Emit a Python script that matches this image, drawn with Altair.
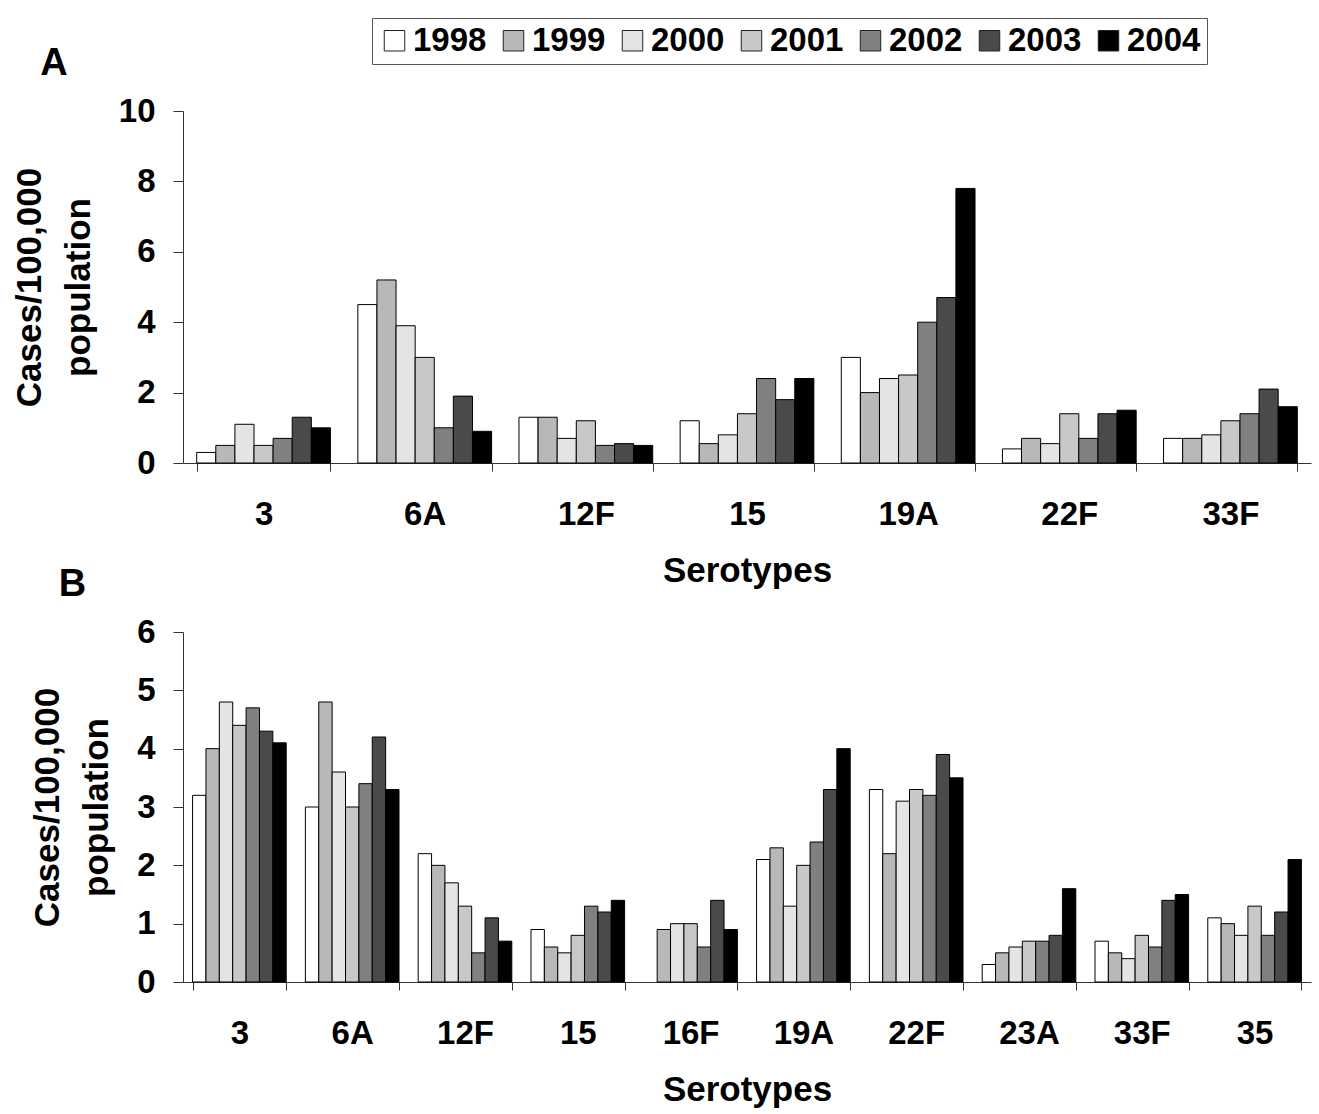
import altair as alt
import pandas as pd

FONT = "Liberation Sans"

years = ["1998", "1999", "2000", "2001", "2002", "2003", "2004"]
fills = ["#ffffff", "#b8b8b8", "#e4e4e4", "#c8c8c8", "#808080", "#4a4a4a", "#000000"]

# Panel A
sero_a = ["3", "6A", "12F", "15", "19A", "22F", "33F"]
a_1998 = [0.3, 4.5, 1.3, 1.2, 3.0, 0.4, 0.7]
a_1999 = [0.5, 5.2, 1.3, 0.55, 2.0, 0.7, 0.7]
a_2000 = [1.1, 3.9, 0.7, 0.8, 2.4, 0.55, 0.8]
a_2001 = [0.5, 3.0, 1.2, 1.4, 2.5, 1.4, 1.2]
a_2002 = [0.7, 1.0, 0.5, 2.4, 4.0, 0.7, 1.4]
a_2003 = [1.3, 1.9, 0.55, 1.8, 4.7, 1.4, 2.1]
a_2004 = [1.0, 0.9, 0.5, 2.4, 7.8, 1.5, 1.6]

# Panel B
sero_b = ["3", "6A", "12F", "15", "16F", "19A", "22F", "23A", "33F", "35"]
b_1998 = [3.2, 3.0, 2.2, 0.9, None, 2.1, 3.3, 0.3, 0.7, 1.1]
b_1999 = [4.0, 4.8, 2.0, 0.6, 0.9, 2.3, 2.2, 0.5, 0.5, 1.0]
b_2000 = [4.8, 3.6, 1.7, 0.5, 1.0, 1.3, 3.1, 0.6, 0.4, 0.8]
b_2001 = [4.4, 3.0, 1.3, 0.8, 1.0, 2.0, 3.3, 0.7, 0.8, 1.3]
b_2002 = [4.7, 3.4, 0.5, 1.3, 0.6, 2.4, 3.2, 0.7, 0.6, 0.8]
b_2003 = [4.3, 4.2, 1.1, 1.2, 1.4, 3.3, 3.9, 0.8, 1.4, 1.2]
b_2004 = [4.1, 3.3, 0.7, 1.4, 0.9, 4.0, 3.5, 1.6, 1.5, 2.1]


def long_table(sero, series):
    rows = []
    for yr, vals in zip(years, series):
        for s, v in zip(sero, vals):
            if v is not None:
                rows.append({"serotype": s, "year": yr, "value": v})
    return pd.DataFrame(rows)


df_a = long_table(sero_a, [a_1998, a_1999, a_2000, a_2001, a_2002, a_2003, a_2004])
df_b = long_table(sero_b, [b_1998, b_1999, b_2000, b_2001, b_2002, b_2003, b_2004])

fill_scale = alt.Scale(domain=years, range=fills)


def panel(df, sero, ymax, step, letter, height, legend):
    return alt.Chart(df).mark_bar(stroke="black", strokeWidth=1).encode(
        x=alt.X(
            "serotype:N", sort=sero, title="Serotypes",
            scale=alt.Scale(paddingInner=0.17, paddingOuter=0.085),
            axis=alt.Axis(labelAngle=0, tickBand="extent", tickSize=8, labelPadding=27,
                          titlePadding=22, domainColor="#333", tickColor="#333"),
        ),
        xOffset=alt.XOffset("year:N", sort=years, scale=alt.Scale(paddingInner=0, paddingOuter=0)),
        y=alt.Y(
            "value:Q", title=["Cases/100,000", "population"],
            scale=alt.Scale(domain=[0, ymax], nice=False),
            axis=alt.Axis(values=list(range(0, ymax + 1, step)), grid=False,
                          tickSize=10, labelPadding=18, titlePadding=22, titleLineHeight=49,
                          domainColor="#333", tickColor="#333"),
        ),
        fill=alt.Fill("year:N", scale=fill_scale, legend=legend),
    ).properties(
        width=1128, height=height,
        title=alt.TitleParams(letter, anchor="start", frame="bounds", fontSize=38, font=FONT,
                              fontWeight="bold", dx=28, offset=12),
    )


legend = alt.Legend(
    title=None, orient="none", direction="horizontal", columns=7, legendX=189, legendY=-93,
    symbolType="square", symbolSize=420, symbolStrokeColor="#222", symbolStrokeWidth=1,
    labelFont=FONT, labelFontSize=33, labelFontWeight="bold", labelColor="black",
    columnPadding=10, labelOffset=2, strokeColor="#555", padding=6,
)

chart_a = panel(df_a, sero_a, 10, 2, "A", 352, legend)
chart_b = panel(df_b, sero_b, 6, 1, "B", 350, legend)

chart = alt.vconcat(chart_a, chart_b, spacing=-22).resolve_scale(
    x="independent", xOffset="independent", y="independent"
).properties(
    padding={"left": 12, "top": 17, "right": 2, "bottom": 2},
).configure_view(stroke=None).configure_axis(
    labelFont=FONT, labelFontSize=33, labelFontWeight="bold", labelColor="black",
    titleFont=FONT, titleFontSize=35, titleFontWeight="bold", titleColor="black",
)

chart.save("out.html", embed_options={"renderer": "svg", "actions": False})
